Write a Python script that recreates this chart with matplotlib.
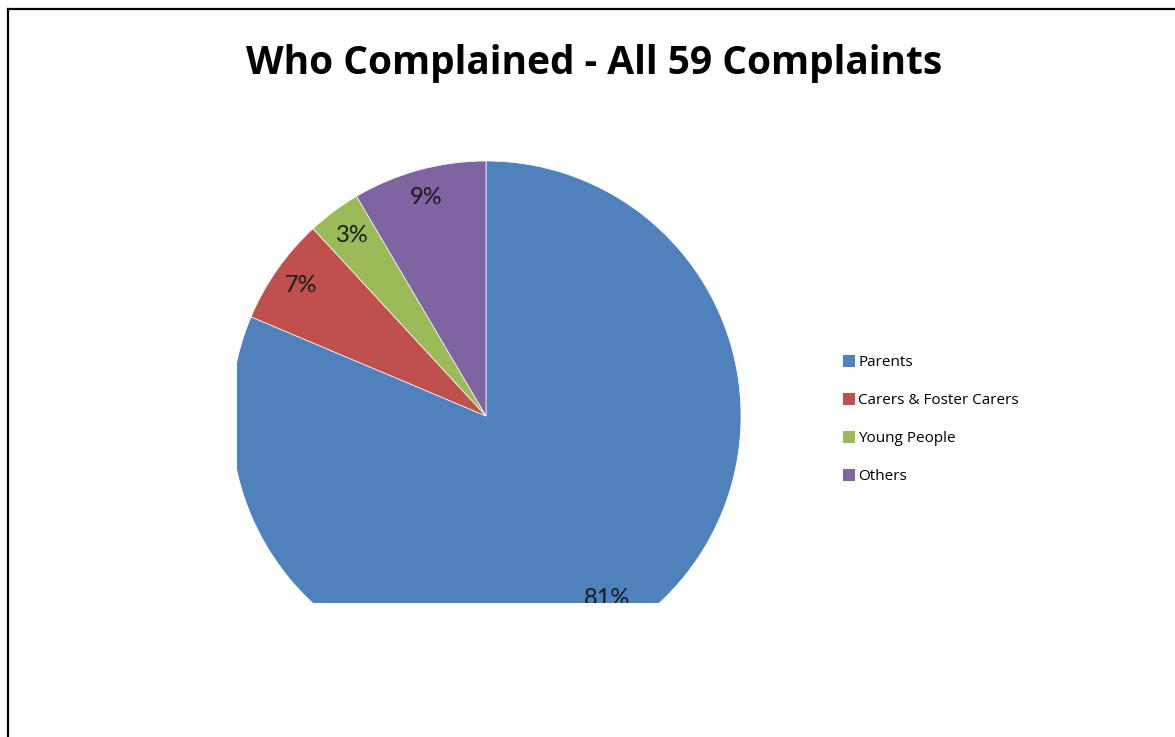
import numpy as np
import matplotlib
matplotlib.use("Agg")
import matplotlib.pyplot as plt
from matplotlib.lines import Line2D

# data (59 complaints in total)
groups = ["Parents", "Carers & Foster Carers", "Young People", "Others"]
counts = [48, 4, 2, 5]
pct_labels = ["81%", "7%", "3%", "9%"]
colors = ["#4F81BD", "#C0504D", "#9BBB59", "#8064A2"]
title = "Who Complained - All 59 Complaints"

W, H = 1175, 737
fig = plt.figure(figsize=(W / 100, H / 100), dpi=100)
fig.patch.set_facecolor("white")

# pie geometry in pixels: centre, radius, and the clipping box of the plot area
cx, cy, r = 486, 416, 255
box_l, box_r, box_t, box_b = 237, 800, 150, 603

ax = fig.add_axes([box_l / W, 1 - box_b / H, (box_r - box_l) / W, (box_b - box_t) / H])
wedges, texts, autotexts = ax.pie(
    counts, colors=colors, startangle=90, counterclock=False,
    radius=1, center=(0, 0), autopct="%1.0f%%", pctdistance=0.88,
    wedgeprops=dict(edgecolor="white", linewidth=0.5),
    textprops=dict(fontsize=17, family="Lato", color="#1a1a1a"))
ax.set_aspect("auto")
ax.set_xlim((box_l - cx) / r, (box_r - cx) / r)
ax.set_ylim((cy - box_b) / r, (cy - box_t) / r)
ax.axis("off")

# labels as printed on the original chart, at excel-like distances
label_dist = [0.86, 0.887, 0.88, 0.887]
for w, t, lab, d in zip(wedges, autotexts, pct_labels, label_dist):
    mid = np.deg2rad((w.theta1 + w.theta2) / 2)
    t.set_text(lab)
    t.set_position((d * np.cos(mid), d * np.sin(mid)))
    t.set_clip_on(True)
    t.set_clip_path(ax.patch)
    w.set_clip_on(True)
    w.set_clip_path(ax.patch)

fig.text(594.5 / W, 1 - 74 / H, title, ha="center", va="baseline",
         fontsize=28, fontweight="bold", family="Open Sans")

leg = fig.legend(wedges, groups, loc="center left",
                 bbox_to_anchor=(843 / W, 1 - 419.5 / H),
                 frameon=False, borderpad=0, borderaxespad=0,
                 handlelength=0.8, handleheight=0.8, handletextpad=0.2,
                 labelspacing=1.5, prop=dict(family="Open Sans", size=11))
for h in leg.legend_handles:
    h.set_edgecolor("none")

# outer frame (only the left and top edges fall inside the picture)
lw = 2.2 * 72 / 100
fig.add_artist(Line2D([8 / W, 8 / W], [0, 1 - 8.5 / H], color="black", lw=lw))
fig.add_artist(Line2D([8 / W, 1], [1 - 8.5 / H, 1 - 8.5 / H], color="black", lw=lw))

plt.savefig("out.png", dpi=100)
